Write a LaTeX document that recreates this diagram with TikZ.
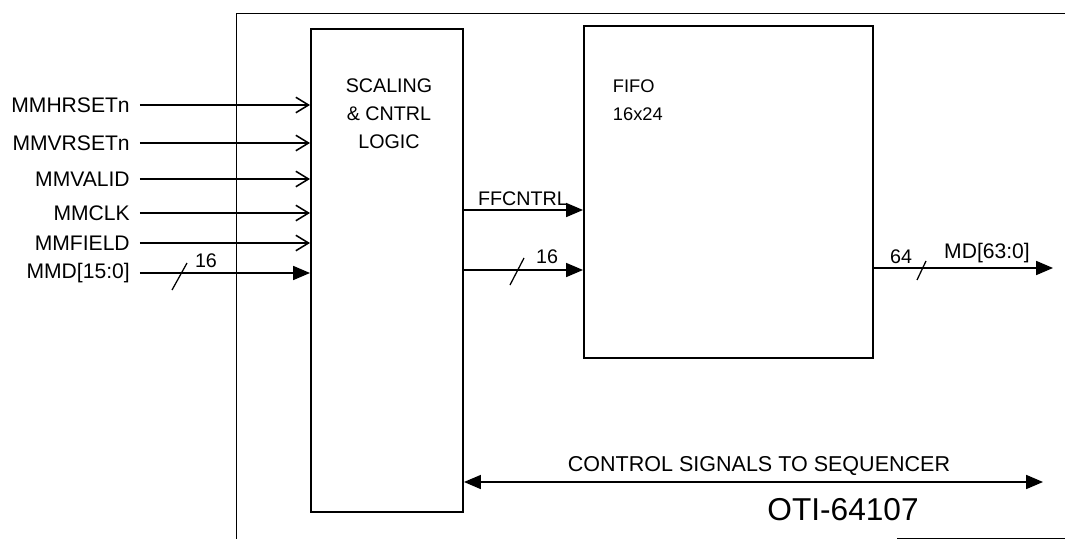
\documentclass[tikz,border=0pt]{standalone}
\usepackage{fontspec}
\setmainfont{Liberation Sans}
\usetikzlibrary{arrows.meta,calc}

\begin{document}
\begin{tikzpicture}[
  x=0.025cm, y=-0.025cm,
  font=\fontsize{14}{20}\selectfont,
  blk/.style={draw, line width=1.4pt, inner sep=0pt},
  inlbl/.style={anchor=east, inner sep=0pt, font=\fontsize{15}{18}\selectfont},
  wire/.style={line width=0.9pt},
  inarrow/.style={wire, -{Straight Barb[length=9pt, width=11pt, line width=1.1pt]}},
  busarrow/.style={wire, -{Triangle[length=12pt, width=10pt]}},
  slash/.style={line width=0.9pt},
  frame/.style={line width=0.6pt}
]
  \useasboundingbox (0,0) rectangle (1065,539);

  % === Chip outline ===
  \draw[frame] (236,539) -- (236,13) -- (1065,13);
  \draw[frame] (897,538) -- (1065,538);

  % === Blocks ===
  \node[blk, minimum width=3.8cm, minimum height=12.075cm] (scl) at (387,270.5) {};
  \node[blk, minimum width=7.225cm, minimum height=8.3cm] (fifo) at (728.5,192) {};
  \node[align=center] (scltxt) at (389,114) {SCALING\\\& CNTRL\\LOGIC};
  \node[align=left, anchor=west, font=\fontsize{13}{20}\selectfont] (fifotxt) at (608,100) {FIFO\\16x24};

  % === Inputs ===
  \node[inlbl] (hrs) at (130,105) {MMHRSETn};
  \node[inlbl] (vrs) at (130,143) {MMVRSETn};
  \node[inlbl] (val) at (130,179) {MMVALID};
  \node[inlbl] (clk) at (130,213) {MMCLK};
  \node[inlbl] (fld) at (130,243) {MMFIELD};
  \node[inlbl] (mmd) at (130,273) {MMD[15:0]};
  \foreach \n in {hrs,vrs,val,clk,fld}
    \draw[inarrow] ([xshift=7pt]\n.east) -- (\n.east -| scl.west);
  \draw[busarrow] ([xshift=7pt]mmd.east) -- (mmd.east -| scl.west);
  \draw[slash] (172,290) -- (187,263);
  \node (mmdw) at (206,261) {16};

  % === Logic to FIFO ===
  \coordinate (ffrow) at (0,210);
  \coordinate (dtrow) at (0,270);
  \draw[busarrow] (scl.east |- ffrow) -- (fifo.west |- ffrow);
  \node (ffc) at (523,199) {FFCNTRL};
  \draw[busarrow] (scl.east |- dtrow) -- (fifo.west |- dtrow);
  \draw[slash] (510,285) -- (524,258);
  \node (dtw) at (547,257) {16};

  % === Output ===
  \coordinate (mdend) at (1053,268);
  \draw[busarrow] (fifo.east |- mdend) -- (mdend);
  \draw[slash] (917,280) -- (926,261);
  \node (mdw) at (901,257) {64};
  \node[font=\fontsize{15}{18}\selectfont] (md) at (987,253) {MD[63:0]};

  % === Control bus ===
  \coordinate (ctlend) at (1043,482);
  \draw[wire, {Triangle[length=12pt, width=10pt]}-{Triangle[length=12pt, width=10pt]}]
    (scl.east |- ctlend) -- (ctlend);
  \node[font=\fontsize{15.3}{18}\selectfont] (ctl) at (759,466) {CONTROL SIGNALS TO SEQUENCER};
  \node[font=\fontsize{22.5}{26}\selectfont] (chip) at (843,510) {OTI-64107};
\end{tikzpicture}
\end{document}
